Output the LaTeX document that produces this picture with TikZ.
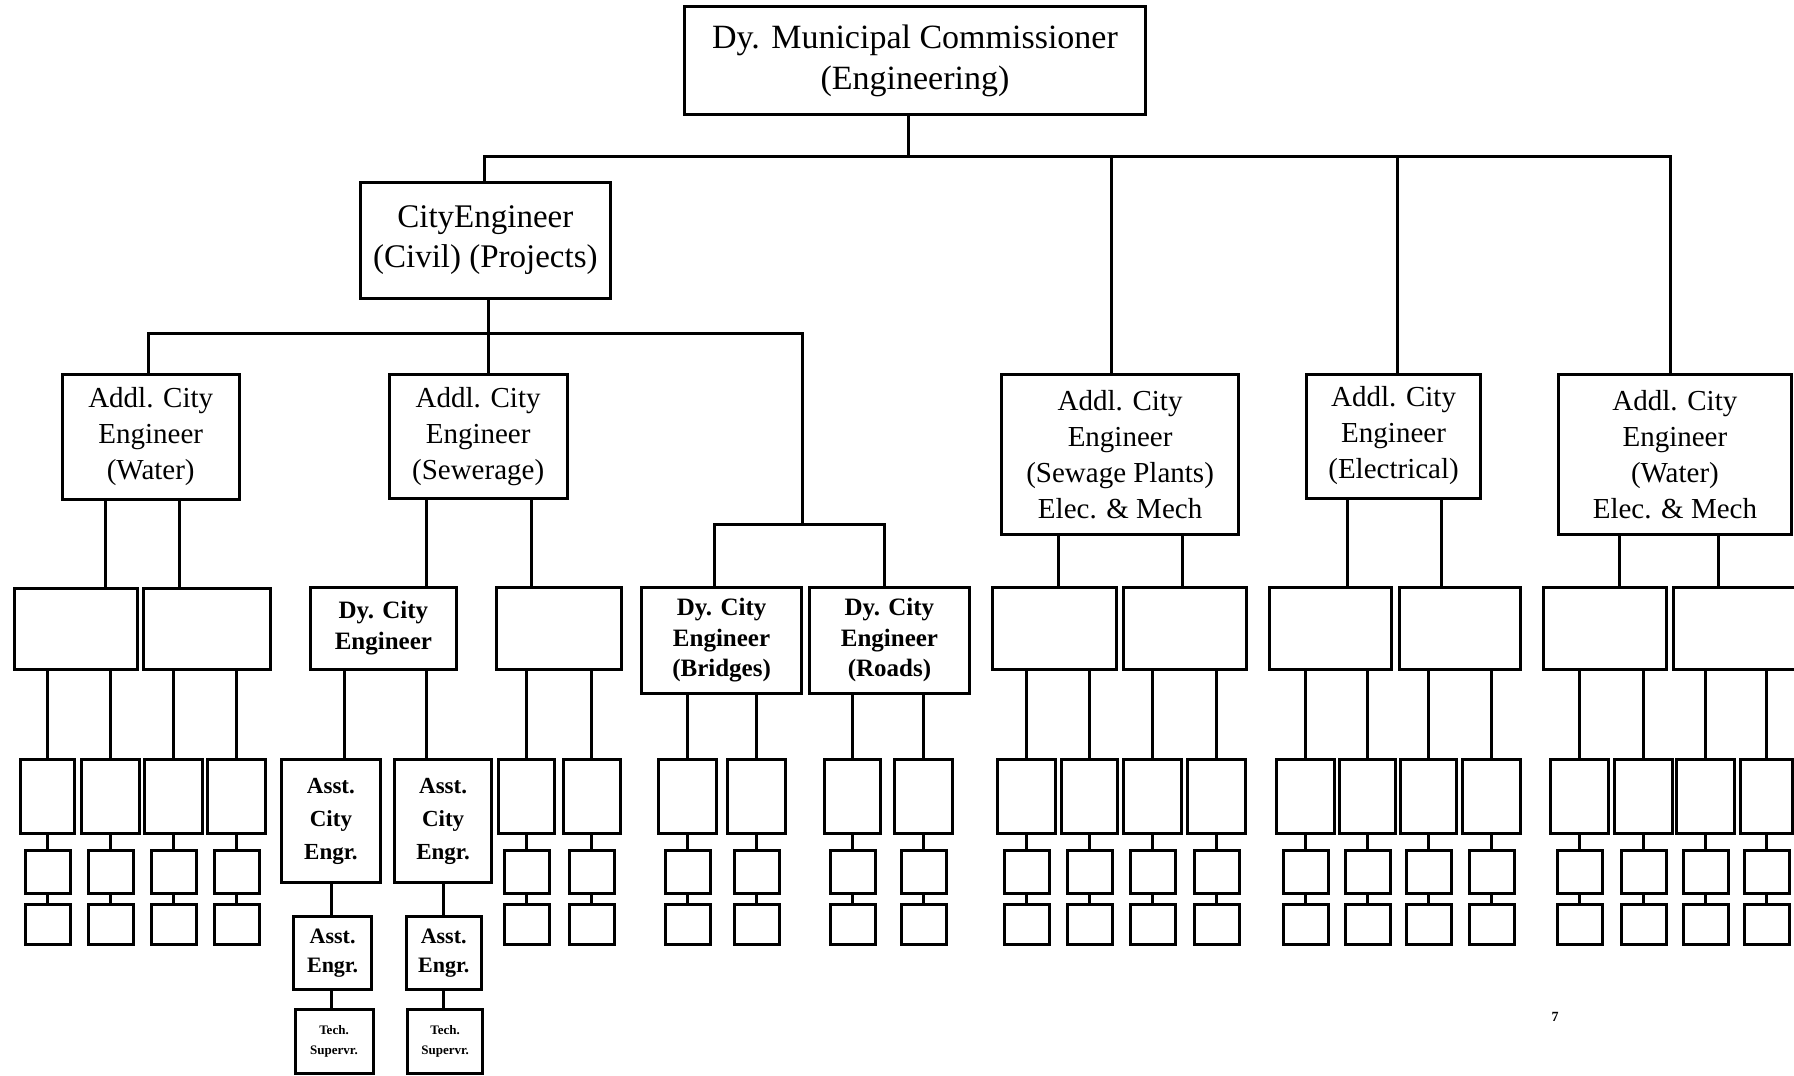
\documentclass[tikz,border=0pt]{standalone}
\usepackage{fontspec}
\setmainfont{Liberation Serif}
\usetikzlibrary{calc}

\tikzset{
  box/.style={draw, line width=3pt, inner sep=0pt, outer sep=0pt, align=center},
  conn/.style={line width=3pt, line cap=rect},
  headtxt/.style={font=\fontsize{34pt}{41.5pt}\selectfont},
  cetxt/.style={font=\fontsize{33pt}{40pt}\selectfont},
  addltxt/.style={font=\fontsize{29pt}{36pt}\selectfont},
  dytxt/.style={font=\fontsize{25pt}{30.5pt}\selectfont\bfseries},
  acetxt/.style={font=\fontsize{23pt}{33pt}\selectfont\bfseries},
  aetxt/.style={font=\fontsize{22pt}{29pt}\selectfont\bfseries},
  tstxt/.style={font=\fontsize{13pt}{20pt}\selectfont\bfseries},
}

% box from its corners: [style]{name}{x1}{y1}{x2}{y2}{text}
\newcommand{\bx}[7][]{%
  \node[box,#1,minimum width={#5pt-#3pt},minimum height={#6pt-#4pt}]
    (#2) at ({(#3+#5)/2},{(#4+#6)/2}) {#7};}
% vertical link at x = #3 from the bottom of #1 to the top of #2
\newcommand{\drop}[3]{%
  \draw[conn] let \p1=(#1.south), \p2=(#2.north) in (#3pt,\y1) -- (#3pt,\y2);}
% vertical link at x = #3 from bus coordinate #1 to the top of #2
\newcommand{\hang}[3]{%
  \draw[conn] let \p1=(#1), \p2=(#2.north) in (#3pt,\y1) -- (#3pt,\y2);}
% horizontal bus through coordinate #1 from x=#2 to x=#3
\newcommand{\busline}[3]{%
  \draw[conn] let \p1=(#1) in (#2pt,\y1) -- (#3pt,\y1);}
% a column of three unnamed posts under parent #4
\newcommand{\leaf}[4]{%
  \pgfmathsetmacro\leafx{round((#2+#3)/2)+0.5}%
  \node[box, minimum width={#3pt-#2pt}, minimum height=74pt] (q#1) at (\leafx,796) {};%
  \node[box, minimum width=45pt, minimum height=43pt] (r#1) at (\leafx,871.5) {};%
  \node[box, minimum width=45pt, minimum height=40pt] (s#1) at (\leafx,924) {};%
  \draw[conn] (q#1.south) -- (r#1.north);%
  \draw[conn] (r#1.south) -- (s#1.north);%
  \drop{#4}{q#1}{\leafx}}

\begin{document}
\begin{tikzpicture}[x=1pt,y=-1pt]
\useasboundingbox[fill=white] (0,0) rectangle (1794,1076);

% ---- level 1 and 2
\bx[headtxt]{top}{684.8}{6.9}{1145.2}{114.7}{Dy. Municipal Commissioner\\(Engineering)}
\bx[cetxt]{ce}{360.5}{182.5}{610.2}{298.3}{CityEngineer\\(Civil) (Projects)}

% ---- additional city engineers
\bx[addltxt]{aw}{62}{374.5}{239.4}{499}{Addl. City\\Engineer\\(Water)}
\bx[addltxt]{as}{389.2}{374}{567.1}{498.5}{Addl. City\\Engineer\\(Sewerage)}
\bx[addltxt]{asp}{1001.5}{374}{1238.7}{534.5}{Addl. City\\Engineer\\(Sewage Plants)\\Elec. \& Mech}
\bx[addltxt]{ael}{1306.6}{374}{1480.5}{498}{Addl. City\\Engineer\\(Electrical)}
\bx[addltxt]{awm}{1558.6}{374}{1791.2}{534.5}{Addl. City\\Engineer\\(Water)\\Elec. \& Mech}

% ---- buses
\coordinate (busA) at (0,156.5);
\coordinate (busB) at (0,333.5);
\coordinate (busC) at (0,524.5);

\draw[conn] let \p1=(top.south), \p2=(busA) in (908.5pt,\y1) -- (908.5pt,\y2);
\busline{busA}{484.5}{1670.5}
\hang{busA}{ce}{484.5}
\hang{busA}{asp}{1111.5}
\hang{busA}{ael}{1397.5}
\hang{busA}{awm}{1670.5}

\drop{ce}{as}{488.5}
\busline{busB}{148.5}{802.5}
\hang{busB}{aw}{148.5}

% ---- deputy city engineers and unnamed posts
\bx{w1}{14.3}{588}{137.8}{669.5}{}
\bx{w2}{143.5}{588}{270.9}{669.5}{}
\bx[dytxt]{dce}{310.5}{587.5}{456.3}{669}{Dy. City\\Engineer}
\bx{sb}{496.5}{587.5}{621.6}{669}{}
\bx[dytxt]{br}{641.2}{587.5}{801.9}{693}{Dy. City\\Engineer\\(Bridges)}
\bx[dytxt]{rd}{809.3}{587.5}{969.6}{693}{Dy. City\\Engineer\\(Roads)}
\bx{p1}{992.4}{587.5}{1116.7}{669.2}{}
\bx{p2}{1123.5}{587.5}{1246.7}{669.2}{}
\bx{e1}{1269.5}{587.5}{1391.5}{669.2}{}
\bx{e2}{1399.5}{587.5}{1520.4}{669.2}{}
\bx{m1}{1543.2}{587.5}{1666.9}{669.2}{}
\bx{m2}{1673.2}{587.5}{1810}{669.2}{}

\drop{aw}{w1}{105.5}
\drop{aw}{w2}{179.5}
\drop{as}{dce}{426.5}
\drop{as}{sb}{531.5}
\drop{asp}{p1}{1058.5}
\drop{asp}{p2}{1182.5}
\drop{ael}{e1}{1347.5}
\drop{ael}{e2}{1441.5}
\drop{awm}{m1}{1619.5}
\drop{awm}{m2}{1718.5}

\draw[conn] let \p1=(busB), \p2=(busC) in (802.5pt,\y1) -- (802.5pt,\y2);
\busline{busC}{714.5}{884.5}
\hang{busC}{br}{714.5}
\hang{busC}{rd}{884.5}

% ---- assistant engineers under the deputy city engineer
\bx[acetxt]{ace1}{281.3}{759.8}{380.6}{882.8}{Asst.\\City\\Engr.}
\bx[acetxt]{ace2}{394.3}{759.8}{491.9}{882.8}{Asst.\\City\\Engr.}
\bx[aetxt]{ae1}{293.9}{916}{371.4}{989.5}{Asst.\\Engr.}
\bx[aetxt]{ae2}{406.4}{916}{481}{989.5}{Asst.\\Engr.}
\bx[tstxt]{ts1}{295}{1009.3}{373}{1073.2}{Tech.\\Supervr.}
\bx[tstxt]{ts2}{407.5}{1009.3}{482.7}{1073.2}{Tech.\\Supervr.}

\drop{dce}{ace1}{344.5}
\drop{dce}{ace2}{426.5}
\drop{ace1}{ae1}{331.5}
\drop{ace2}{ae2}{443.5}
\drop{ae1}{ts1}{331.5}
\drop{ae2}{ts2}{443.5}

% ---- lower posts
\leaf{1}{20.1}{74.6}{w1}
\leaf{2}{81.5}{138.9}{w1}
\leaf{3}{144.6}{202}{w2}
\leaf{4}{206.6}{265.2}{w2}
\leaf{5}{498}{554}{sb}
\leaf{6}{562}{619}{sb}
\leaf{7}{657.2}{715.8}{br}
\leaf{8}{727.3}{784.7}{br}
\leaf{9}{824.8}{880}{rd}
\leaf{10}{894}{951.3}{rd}
\leaf{11}{997.5}{1054.8}{p1}
\leaf{12}{1061}{1117.9}{p1}
\leaf{13}{1123.6}{1181}{p2}
\leaf{14}{1186.7}{1244.6}{p2}
\leaf{15}{1276}{1333.5}{e1}
\leaf{16}{1339.2}{1394.8}{e1}
\leaf{17}{1400}{1456.2}{e2}
\leaf{18}{1461.9}{1519.3}{e2}
\leaf{19}{1550.2}{1608.1}{m1}
\leaf{20}{1613.9}{1671.2}{m1}
\leaf{21}{1676.4}{1734.3}{m2}
\leaf{22}{1739.4}{1792}{m2}

% ---- page number
\node[font=\fontsize{14pt}{14pt}\selectfont\bfseries] (pgno) at (1555,1017) {7};
\end{tikzpicture}
\end{document}
